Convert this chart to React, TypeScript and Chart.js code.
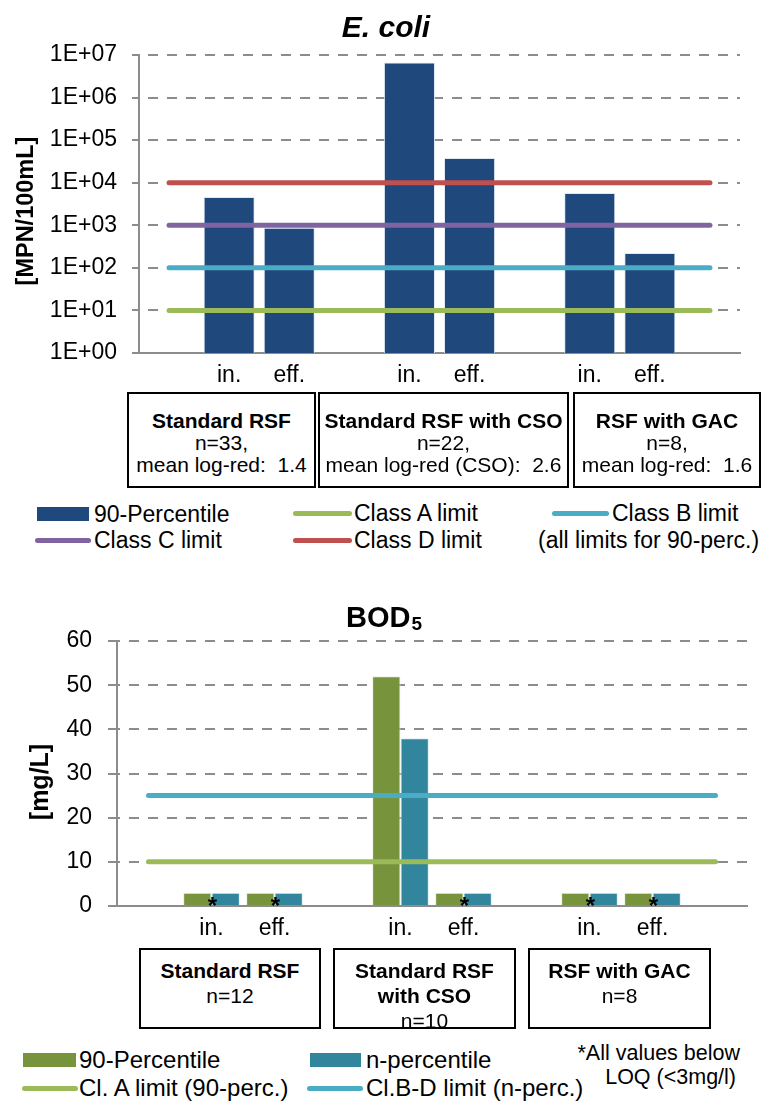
import React, { useEffect, useRef } from 'react';
import { Chart, registerables } from 'chart.js';

Chart.register(...registerables);

const FONT = '"Liberation Sans", Arial, Helvetica, sans-serif';
Chart.defaults.font.family = FONT;

// ---------- shared categories ----------
const categories = ['', 'in.', 'eff.', '', 'in.', 'eff.', '', 'in.', 'eff.', ''];

// ---------- E. coli ----------
const ecoliTitle = 'E. coli';
const ecoliYTitle = '[MPN/100mL]';
const ecoli90 = [null, 4600, 870, null, 6700000, 38000, null, 5700, 224, null];
const ecoliClassA = [10, 10, 10, 10, 10, 10, 10, 10, 10, 10];
const ecoliClassB = [100, 100, 100, 100, 100, 100, 100, 100, 100, 100];
const ecoliClassC = [1000, 1000, 1000, 1000, 1000, 1000, 1000, 1000, 1000, 1000];
const ecoliClassD = [10000, 10000, 10000, 10000, 10000, 10000, 10000, 10000, 10000, 10000];
const ecoliTickValues = [1, 10, 100, 1000, 10000, 100000, 1000000, 10000000];
const ecoliTickLabels = ['1E+00', '1E+01', '1E+02', '1E+03', '1E+04', '1E+05', '1E+06', '1E+07'];
const ecoliGroupTitles = ['Standard RSF', 'Standard RSF with CSO', 'RSF with GAC'];
const ecoliGroupN = ['n=33,', 'n=22,', 'n=8,'];
const ecoliGroupLogRed = ['mean log-red:  1.4', 'mean log-red (CSO):  2.6', 'mean log-red:  1.6'];

// ---------- BOD5 ----------
const bodYTitle = '[mg/L]';
const bod90 = [null, 3, 3, null, 52, 3, null, 3, 3, null];
const bodN = [null, 3, 3, null, 38, 3, null, 3, 3, null];
const bodClassA = [10, 10, 10, 10, 10, 10, 10, 10, 10, 10];
const bodClassBD = [25, 25, 25, 25, 25, 25, 25, 25, 25, 25];
const bodBelowLOQ = [false, true, true, false, false, true, false, true, true, false];
const bodGroupTitles = [['Standard RSF'], ['Standard RSF', 'with CSO'], ['RSF with GAC']];
const bodGroupN = ['n=12', 'n=10', 'n=8'];

const C = {
  navy: '#1F497D',
  green: '#77933C',
  teal: '#31859C',
  red: '#C0504D',
  purple: '#8064A2',
  cyan: '#4BACC6',
  lime: '#9BBB59',
  grid: '#8c8c8c',
};

const limitLine = (label: string, data: number[], color: string) => ({
  type: 'line' as const,
  label,
  data,
  borderColor: color,
  backgroundColor: color,
  borderWidth: 5,
  borderCapStyle: 'round' as const,
  pointRadius: 0,
  fill: false,
  tension: 0,
  order: 0,
});

const topTextPlugin = {
  id: 'topText',
  afterDraw(chart: any) {
    const ctx = chart.ctx;
    ctx.save();
    ctx.fillStyle = '#000';
    ctx.font = `italic bold 30px ${FONT}`;
    ctx.textAlign = 'center';
    ctx.textBaseline = 'alphabetic';
    ctx.fillText(ecoliTitle, 386, 37);
    ctx.translate(27, 211);
    ctx.rotate(-Math.PI / 2);
    ctx.font = `bold 23.5px ${FONT}`;
    ctx.textBaseline = 'middle';
    ctx.fillText(ecoliYTitle, 0, 0);
    ctx.restore();
  },
};

const bottomTextPlugin = {
  id: 'bottomText',
  afterDatasetsDraw(chart: any) {
    const ctx = chart.ctx;
    const xs = chart.scales.x;
    const ys = chart.scales.y;
    ctx.save();
    ctx.fillStyle = '#000';
    ctx.font = `bold 24px ${FONT}`;
    ctx.textAlign = 'center';
    ctx.textBaseline = 'alphabetic';
    const m = ctx.measureText('*');
    const half = (m.actualBoundingBoxAscent - m.actualBoundingBoxDescent) / 2;
    bodBelowLOQ.forEach((flag, i) => {
      if (!flag) return;
      const x = xs.getPixelForValue(i) + 1;
      const c = ys.getPixelForValue(0) - 5;
      ctx.fillText('*', x, c + half);
    });
    ctx.restore();
  },
  afterDraw(chart: any) {
    const ctx = chart.ctx;
    ctx.save();
    ctx.fillStyle = '#000';
    ctx.textAlign = 'left';
    ctx.textBaseline = 'alphabetic';
    ctx.font = `bold 29px ${FONT}`;
    const w1 = ctx.measureText('BOD').width;
    ctx.font = `bold 19px ${FONT}`;
    const w2 = ctx.measureText('5').width;
    const start = 384 - (w1 + 1 + w2) / 2;
    ctx.font = `bold 29px ${FONT}`;
    ctx.fillText('BOD', start, 47);
    ctx.font = `bold 19px ${FONT}`;
    ctx.fillText('5', start + w1 + 1, 50);
    ctx.translate(41, 202);
    ctx.rotate(-Math.PI / 2);
    ctx.textAlign = 'center';
    ctx.textBaseline = 'middle';
    ctx.font = `bold 25px ${FONT}`;
    ctx.fillText(bodYTitle, 0, 0);
    ctx.restore();
  },
};

const Box = ({ left, top, width, height, padTop, lineHeight, bold, normal }: any) => (
  <div
    style={{
      position: 'absolute',
      left,
      top,
      width,
      height,
      boxSizing: 'border-box',
      border: '2px solid #000',
      paddingTop: padTop,
      textAlign: 'center',
      fontSize: 21,
      lineHeight: `${lineHeight}px`,
      whiteSpace: 'pre',
      background: '#fff',
    }}
  >
    {bold.map((t: string, i: number) => (
      <div key={'b' + i} style={{ fontWeight: 'bold' }}>{t}</div>
    ))}
    {normal.map((t: string, i: number) => (
      <div key={'n' + i}>{t}</div>
    ))}
  </div>
);

const LegendItem = ({ cy, kind, color, swLeft, swWidth, text, textLeft, size }: any) => {
  const h = kind === 'rect' ? 14 : 5;
  return (
    <>
      <div
        style={{
          position: 'absolute',
          left: swLeft,
          top: cy - h / 2,
          width: swWidth,
          height: h,
          background: color,
          borderRadius: kind === 'rect' ? 0 : 2.5,
        }}
      />
      <div
        style={{
          position: 'absolute',
          left: textLeft,
          top: cy - 14,
          height: 28,
          lineHeight: '28px',
          fontSize: size || 23,
          whiteSpace: 'pre',
        }}
      >
        {text}
      </div>
    </>
  );
};

export default function App() {
  const topRef = useRef<HTMLCanvasElement>(null);
  const botRef = useRef<HTMLCanvasElement>(null);

  useEffect(() => {
    const top = new Chart(topRef.current as HTMLCanvasElement, {
      type: 'bar',
      data: {
        labels: categories,
        datasets: [
          limitLine('Class A limit', ecoliClassA, C.lime),
          limitLine('Class B limit', ecoliClassB, C.cyan),
          limitLine('Class C limit', ecoliClassC, C.purple),
          limitLine('Class D limit', ecoliClassD, C.red),
          {
            type: 'bar',
            label: '90-Percentile',
            data: ecoli90 as any,
            backgroundColor: C.navy,
            borderColor: 'rgba(220,230,242,0.9)',
            borderWidth: 1,
            barPercentage: 0.85,
            categoryPercentage: 1,
            order: 1,
          } as any,
        ],
      },
      options: {
        responsive: false,
        animation: false,
        devicePixelRatio: 1,
        layout: { padding: { left: 0, right: 24, top: 55, bottom: 0 } },
        plugins: { legend: { display: false }, tooltip: { enabled: false }, title: { display: false } },
        scales: {
          x: {
            type: 'category',
            grid: { display: false, drawTicks: false },
            border: { display: true, color: C.grid, width: 2 },
            ticks: { font: { size: 23, family: FONT }, color: '#000', padding: 9, autoSkip: false, maxRotation: 0 },
            afterFit: (s: any) => { s.height = 47; },
          },
          y: {
            type: 'logarithmic',
            min: 1,
            max: 10000000,
            grid: { color: C.grid, lineWidth: 2, tickLength: 7, tickColor: C.grid, tickWidth: 2 },
            border: { display: true, color: C.grid, width: 2, dash: [10, 9], dashOffset: 11 },
            ticks: {
              font: { size: 23, family: FONT },
              color: '#000',
              padding: 15,
              callback: (_v: any, i: number) => ecoliTickLabels[i],
            },
            afterBuildTicks: (s: any) => { s.ticks = ecoliTickValues.map((v) => ({ value: v })); },
            afterFit: (s: any) => { s.width = 139; },
          } as any,
        },
      },
      plugins: [topTextPlugin],
    } as any);

    const bot = new Chart(botRef.current as HTMLCanvasElement, {
      type: 'bar',
      data: {
        labels: categories,
        datasets: [
          limitLine('Cl. A limit (90-perc.)', bodClassA, C.lime),
          limitLine('Cl.B-D limit (n-perc.)', bodClassBD, C.cyan),
          {
            type: 'bar',
            label: '90-Percentile',
            data: bod90 as any,
            backgroundColor: C.green,
            borderColor: 'rgba(230,238,220,0.9)',
            borderWidth: 1,
            barPercentage: 1,
            categoryPercentage: 0.9,
            order: 1,
          } as any,
          {
            type: 'bar',
            label: 'n-percentile',
            data: bodN as any,
            backgroundColor: C.teal,
            borderColor: 'rgba(220,236,242,0.9)',
            borderWidth: 1,
            barPercentage: 1,
            categoryPercentage: 0.9,
            order: 1,
          } as any,
        ],
      },
      options: {
        responsive: false,
        animation: false,
        devicePixelRatio: 1,
        layout: { padding: { left: 0, right: 17, top: 61, bottom: 0 } },
        plugins: { legend: { display: false }, tooltip: { enabled: false }, title: { display: false } },
        scales: {
          x: {
            type: 'category',
            grid: { display: false, drawTicks: false },
            border: { display: true, color: C.grid, width: 2 },
            ticks: { font: { size: 23, family: FONT }, color: '#000', padding: 9, autoSkip: false, maxRotation: 0 },
            afterFit: (s: any) => { s.height = 54; },
          },
          y: {
            type: 'linear',
            min: 0,
            max: 60,
            grid: { color: C.grid, lineWidth: 2, tickLength: 9, tickColor: C.grid, tickWidth: 2 },
            border: { display: true, color: C.grid, width: 2, dash: [10, 9], dashOffset: 8 },
            ticks: { font: { size: 23, family: FONT }, color: '#000', padding: 16, stepSize: 10 },
            afterFit: (s: any) => { s.width = 117; },
          } as any,
        },
      },
      plugins: [bottomTextPlugin],
    } as any);

    return () => {
      top.destroy();
      bot.destroy();
    };
  }, []);

  const topBoxes = [
    { left: 127, width: 189 },
    { left: 318, width: 251 },
    { left: 573, width: 188 },
  ];
  const botBoxes = [
    { left: 139, width: 182 },
    { left: 333, width: 183 },
    { left: 528, width: 183 },
  ];

  return (
    <div
      style={{
        position: 'absolute',
        left: 0,
        top: 0,
        width: 764,
        height: 1101,
        background: '#fff',
        fontFamily: FONT,
        color: '#000',
        overflow: 'hidden',
      }}
    >
      <canvas ref={topRef} width={764} height={400} style={{ position: 'absolute', left: 0, top: 0 }} />
      {topBoxes.map((b, i) => (
        <Box
          key={'tb' + i}
          left={b.left}
          width={b.width}
          top={392}
          height={96}
          padTop={16}
          lineHeight={22}
          bold={[ecoliGroupTitles[i]]}
          normal={[ecoliGroupN[i], ecoliGroupLogRed[i]]}
        />
      ))}
      <LegendItem kind="rect" color={C.navy} swLeft={37} swWidth={52} cy={514} textLeft={94} text="90-Percentile" />
      <LegendItem kind="line" color={C.purple} swLeft={35} swWidth={56} cy={540} textLeft={94} text="Class C limit" />
      <LegendItem kind="line" color={C.lime} swLeft={293} swWidth={59} cy={513} textLeft={354} text="Class A limit" />
      <LegendItem kind="line" color={C.red} swLeft={293} swWidth={59} cy={540} textLeft={354} text="Class D limit" />
      <LegendItem kind="line" color={C.cyan} swLeft={552} swWidth={57} cy={513} textLeft={612} text="Class B limit" />
      <div style={{ position: 'absolute', left: 538, top: 526, height: 28, lineHeight: '28px', fontSize: 23, whiteSpace: 'pre' }}>
        (all limits for 90-perc.)
      </div>

      <canvas ref={botRef} width={764} height={380} style={{ position: 'absolute', left: 0, top: 580 }} />
      {botBoxes.map((b, i) => (
        <Box
          key={'bb' + i}
          left={b.left}
          width={b.width}
          top={948}
          height={81}
          padTop={7.5}
          lineHeight={25}
          bold={bodGroupTitles[i]}
          normal={[bodGroupN[i]]}
        />
      ))}
      <LegendItem kind="rect" color={C.green} swLeft={23} swWidth={53} cy={1060} textLeft={79} text="90-Percentile" size={24} />
      <LegendItem kind="line" color={C.lime} swLeft={22} swWidth={56} cy={1088} textLeft={79} text="Cl. A limit (90-perc.)" size={24} />
      <LegendItem kind="rect" color={C.teal} swLeft={310} swWidth={51} cy={1060} textLeft={366} text="n-percentile" size={24} />
      <LegendItem kind="line" color={C.cyan} swLeft={307} swWidth={56} cy={1088} textLeft={366} text="Cl.B-D limit (n-perc.)" size={24} />
      <div style={{ position: 'absolute', right: 764 - 740, top: 1039, height: 28, lineHeight: '28px', fontSize: 21.5, whiteSpace: 'pre', textAlign: 'right' }}>
        *All values below
      </div>
      <div style={{ position: 'absolute', right: 764 - 736, top: 1063, height: 28, lineHeight: '28px', fontSize: 21.5, whiteSpace: 'pre', textAlign: 'right' }}>
        LOQ (&lt;3mg/l)
      </div>
    </div>
  );
}
